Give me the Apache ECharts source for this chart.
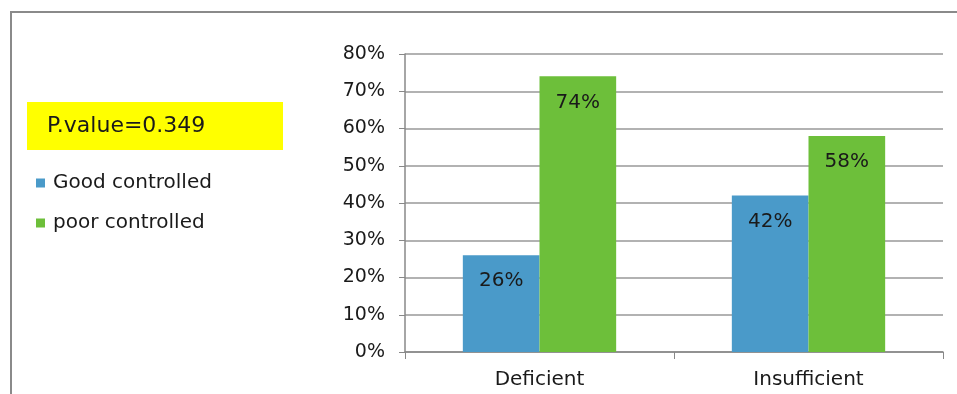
<!DOCTYPE html>
<html>
<head>
<meta charset="utf-8">
<script src="https://cdn.jsdelivr.net/npm/echarts@6/dist/echarts.min.js"></script>
<style>
  html, body { margin: 0; padding: 0; background: #fff; }
  #chart { width: 957px; height: 394px; }
</style>
</head>
<body>
<div id="chart"></div>
<script>
const categories = ['Deficient', 'Insufficient']
const seriesNames = ['Good controlled', 'poor controlled']
const goodControlled = [26, 42]
const poorControlled = [74, 58]
const yTicks = [0, 10, 20, 30, 40, 50, 60, 70, 80]
const pValueText = 'P.value=0.349'

const myChart = echarts.init(document.getElementById('chart'))
const font = 'DejaVu Sans, Liberation Sans, sans-serif'

const barLabel = {
  show: true,
  position: 'insideTop',
  distance: 16,
  formatter: p => p.value + '%',
  color: '#1a1a1a',
  fontSize: 20,
  fontFamily: font
}

myChart.setOption({
  animation: false,
  backgroundColor: '#fff',
  grid: { left: 405, right: 14, top: 54, bottom: 42 },
  legend: {
    orient: 'vertical',
    left: 31,
    top: 168,
    itemWidth: 9,
    itemHeight: 9,
    itemGap: 20,
    icon: 'rect',
    data: seriesNames,
    textStyle: { fontSize: 20, color: '#1a1a1a', fontFamily: font, padding: [0, 0, 0, 3] }
  },
  graphic: [
    {
      type: 'rect',
      shape: { x: 11, y: 12, width: 1000, height: 500 },
      style: { fill: 'none', stroke: '#8a8a8a', lineWidth: 2 },
      silent: true
    },
    {
      type: 'rect',
      shape: { x: 27, y: 102, width: 256, height: 48 },
      style: { fill: '#ffff00' },
      silent: true
    },
    {
      type: 'text',
      left: 47,
      top: 115,
      style: { text: pValueText, fontSize: 22, fill: '#1a1a1a', fontFamily: font }
    }
  ],
  xAxis: {
    type: 'category',
    data: categories,
    axisLine: { lineStyle: { color: '#888', width: 1.5 } },
    axisTick: { show: true, length: 7, lineStyle: { color: '#888' } },
    axisLabel: { fontSize: 20, color: '#1a1a1a', fontFamily: font, margin: 18 }
  },
  yAxis: {
    type: 'value',
    min: yTicks[0],
    max: yTicks[yTicks.length - 1],
    interval: 10,
    axisLine: { show: true, lineStyle: { color: '#888', width: 1.5 } },
    axisTick: { show: true, length: 6, lineStyle: { color: '#888' } },
    axisLabel: { formatter: '{value}%', fontSize: 19, color: '#1a1a1a', fontFamily: font, margin: 20 },
    splitLine: { lineStyle: { color: '#999', width: 1.5 } }
  },
  series: [
    {
      name: seriesNames[0],
      type: 'bar',
      data: goodControlled,
      barGap: '0%',
      barCategoryGap: '43%',
      itemStyle: { color: '#4a9ac9' },
      label: barLabel
    },
    {
      name: seriesNames[1],
      type: 'bar',
      data: poorControlled,
      itemStyle: { color: '#6dbf3a' },
      label: barLabel
    }
  ]
})

window.onresize = function () {
  myChart.resize()
}
</script>
</body>
</html>
